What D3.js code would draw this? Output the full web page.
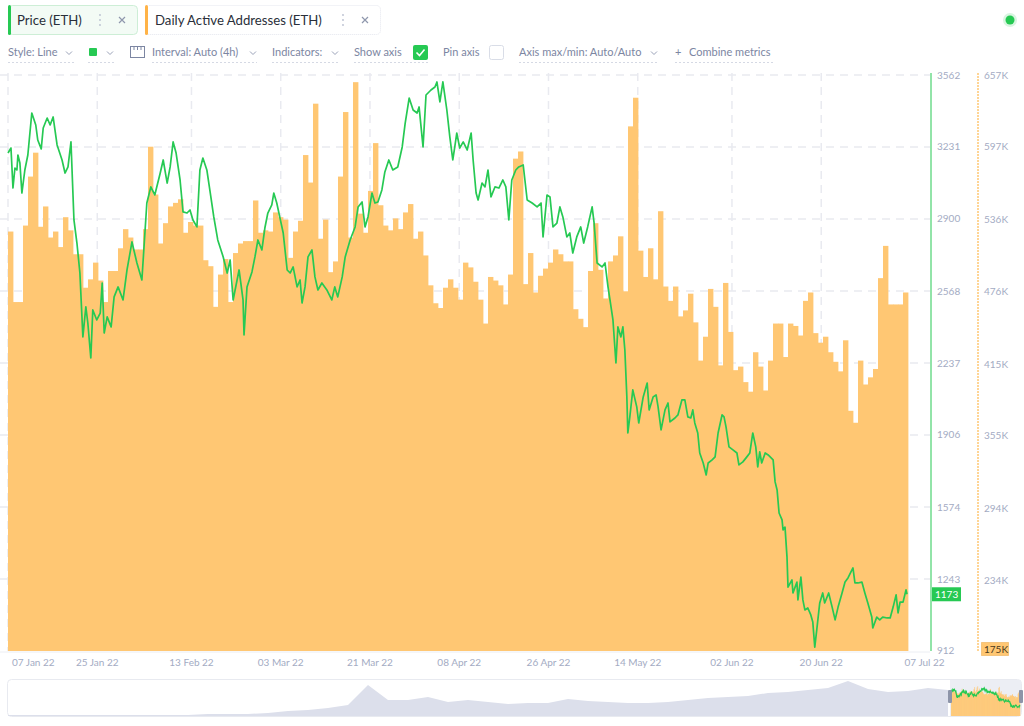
<!DOCTYPE html>
<html><head><meta charset="utf-8">
<script src="https://cdn.jsdelivr.net/npm/d3@7"></script>
<style>
body{margin:0;background:#fff;}
svg{display:block;font-family:Lato,"Open Sans",sans-serif;}
</style></head>
<body><svg id="c" width="1024" height="726"></svg>
<script>
// ---------------- data ----------------
const barStart = "2022-01-07";
const activeAddressesK = [
526,467,467,531,572,592,530,547,521,526,513,538,527,507,507,479,486,500,485,467,
493,493,512,528,521,511,511,528,597,557,516,533,547,550,553,525,534,531,531,502,
497,463,490,503,467,508,516,518,518,552,525,527,526,542,538,536,504,526,535,590,
567,633,520,536,492,501,572,626,521,651,541,525,560,600,548,531,527,537,528,542,
549,520,526,506,481,466,462,479,486,479,469,500,496,484,469,449,488,485,481,465,
490,587,593,482,508,475,489,495,500,511,507,501,501,461,453,446,493,533,494,470,
501,506,522,476,614,638,510,488,512,486,543,480,468,480,455,460,474,450,418,438,
478,463,414,483,442,410,413,400,392,425,413,393,418,449,449,421,449,447,439,468,
475,441,433,438,425,417,409,435,376,366,418,398,404,411,487,514,465,465,465,475
];
const priceDayOffsets = [
0,0.6,1.0,1.4,1.8,2.0,2.4,2.8,3.4,4.0,4.8,5.6,6.0,6.7,7.1,7.9,8.5,9.1,9.9,10.9,
11.5,12.1,12.7,13.3,13.9,14.5,15.1,15.7,16.1,16.7,17.1,17.9,18.6,19.0,19.4,20.0,20.8,21.4,22.2,23.2,
24.0,25.0,26.0,27.0,28.0,28.8,29.6,30.7,31.3,32.1,32.7,33.3,33.9,34.7,35.3,36.1,36.7,37.3,38.1,38.7,
39.3,40.1,40.7,41.5,42.3,43.4,44.2,44.8,45.4,46.2,46.6,47.4,47.6,48.2,49.2,49.8,50.4,51.2,51.8,52.4,
53.2,53.6,54.2,54.8,55.5,56.3,56.9,57.5,58.3,58.9,59.3,59.9,60.5,61.3,61.9,62.5,63.3,64.3,65.3,65.9,
66.5,67.4,68.0,69.0,70.0,70.6,71.4,72.0,72.6,73.4,74.0,74.6,75.4,76.0,76.8,77.6,78.6,79.5,80.1,80.9,
81.7,82.5,82.9,83.7,84.3,85.3,86.1,86.5,87.1,87.7,88.5,89.1,89.7,90.1,90.5,91.1,91.8,92.6,93.4,93.8,
94.4,94.8,95.6,96.2,96.8,97.4,98.2,99.0,99.8,100.4,101.0,101.6,102.4,103.0,103.9,104.7,105.7,106.7,107.5,107.9,
108.7,109.3,109.9,110.7,111.3,111.9,112.7,113.3,113.9,114.7,115.5,116.1,116.9,117.8,118.2,118.8,119.8,120.4,121.0,121.4,
122.0,122.6,123.0,123.6,124.0,124.4,124.8,125.0,125.4,126.0,126.8,127.2,128.1,128.9,129.3,130.1,130.7,131.1,131.7,132.5,
133.1,133.5,134.5,135.1,135.9,136.5,137.1,137.7,138.1,138.5,139.1,139.5,140.2,140.8,141.2,142.0,142.6,143.2,144.0,144.4,
144.8,145.4,146.2,147.0,147.4,148.2,149.0,149.6,150.2,150.8,151.2,151.6,152.0,152.7,153.3,154.3,154.7,155.1,155.5,156.1,
156.3,156.7,157.1,157.3,158.1,158.3,159.1,159.3,159.9,160.3,160.7,161.3,161.9,162.3,162.7,163.1,163.7,164.3,164.7,165.5,
166.2,166.8,167.4,168.2,168.8,169.4,170.4,170.8,171.4,172.2,172.8,173.4,174.2,174.4,175.2,175.8,176.4,177.3,177.9,178.5,
179.1,179.5,179.9,180.5,181.1,181.3
];
const priceValues = [
3203,3226,3042,3134,3125,3194,3157,3019,3125,3194,3387,3332,3263,3222,3318,3364,3332,3369,3240,3171,
3111,3139,3254,2895,2789,2651,2357,2495,2421,2260,2481,2435,2467,2605,2375,2449,2403,2541,2587,2527,
2665,2794,2697,2619,2973,3047,3010,3111,3171,3065,3139,3254,3203,3079,2932,2927,2941,2895,2863,3125,
3180,3125,3033,2909,2803,2725,2651,2711,2527,2619,2665,2527,2366,2587,2656,2725,2803,2757,2858,2927,
2964,3019,2973,2909,2835,2665,2651,2679,2587,2619,2513,2587,2725,2757,2633,2573,2605,2573,2527,2587,
2541,2633,2725,2803,2863,2955,2978,2863,2909,3019,2973,2978,3033,3116,3171,3125,3139,3231,3341,3456,
3401,3387,3415,3231,3470,3493,3507,3530,3438,3530,3401,3277,3171,3231,3295,3226,3254,3217,3295,3171,
3019,2987,3065,3047,3125,3001,3047,3042,3079,3047,2895,3079,3125,3139,3148,2987,2973,2955,2973,2817,
3010,3001,2863,2881,2955,2909,2817,2835,2743,2817,2863,2789,2863,2955,2881,2697,2679,2697,2587,2527,
2435,2237,2403,2357,2403,2297,2081,1915,1989,2113,2035,1961,2081,2145,2021,2081,2090,2035,1929,2021,
2053,1966,1984,1998,2067,2067,1989,1984,2021,1961,1915,1823,1777,1722,1777,1791,1805,1915,1998,1989,
1943,1851,1837,1823,1768,1782,1805,1823,1915,1851,1759,1828,1777,1823,1814,1791,1690,1653,1547,1515,
1469,1482,1344,1206,1239,1179,1229,1147,1252,1147,1101,1110,1078,1045,930,1009,1133,1179,1133,1179,
1114,1055,1114,1179,1229,1248,1294,1225,1225,1229,1179,1133,1068,1018,1068,1055,1068,1064,1064,1114,
1170,1087,1137,1137,1193,1173
];
const priceTicks = [3562,3231,2900,2568,2237,1906,1574,1243,912];
const addressTickValues = [657,597,536,476,415,355,294,234];
const addressTickLabels = ["657K","597K","536K","476K","415K","355K","294K","234K"];
const addressMinLabel = "175K";
const lastPriceLabel = "1173";
const dateTicks = ["2022-01-07","2022-01-25","2022-02-13","2022-03-03","2022-03-21","2022-04-08","2022-04-26","2022-05-14","2022-06-02","2022-06-20","2022-07-07"];
const navigatorHistory = [20,20,20,20,20,20,20,20,20,20,40,40,40,60,100,120,160,220,620,320,
320,380,280,320,280,240,260,260,340,300,280,260,260,280,320,360,380,400,460,480,
520,560,700,540,480,500,560,520];
const tabs = ["Price (ETH)","Daily Active Addresses (ETH)"];
const toolbar = ["Style: Line","Interval: Auto (4h)","Indicators:","Show axis","Pin axis","Axis max/min: Auto/Auto","Combine metrics"];

// ---------------- setup ----------------
const GREEN="#26c953", ORANGE="#ffc773", TXT="#a3abc3", GRID="#e9eaf0";
const svg=d3.select("#c");
const DAY=864e5;
const start=d3.utcParse("%Y-%m-%d")(barStart);
const x=d3.scaleUtc().domain([start,new Date(+start+181.5*DAY)]).range([8,908]);
const barKeys=activeAddressesK.map((_,i)=>i);
const xb=d3.scaleBand().domain(barKeys).range([8,908]).padding(0);
const yP=d3.scaleLinear().domain([912,3562]).range([651,75]);
const yA=d3.scaleLinear().domain([175,657]).range([651,75]);
const priceData=priceDayOffsets.map((d,i)=>({t:new Date(+start+d*DAY),v:priceValues[i]}));

// ---------------- tabs ----------------
const tabG=svg.append("g");
tabG.append("rect").attr("x",8.5).attr("y",5.5).attr("width",129).attr("height",29).attr("rx",4)
  .attr("fill","#f3fbf5").attr("stroke","#cdeed6");
tabG.append("rect").attr("x",8).attr("y",5).attr("width",3).attr("height",30).attr("rx",1.5).attr("fill",GREEN);
tabG.append("text").attr("x",17).attr("y",25).attr("font-size",13.2).attr("fill","#2a2f3a").text(tabs[0]);
tabG.append("rect").attr("x",145.5).attr("y",5.5).attr("width",235).attr("height",29).attr("rx",4)
  .attr("fill","#fff").attr("stroke","#e4e6ee").attr("stroke-dasharray","1,1");
tabG.append("rect").attr("x",145).attr("y",5).attr("width",3).attr("height",30).attr("rx",1.5).attr("fill","#ffb347");
tabG.append("text").attr("x",155).attr("y",25).attr("font-size",13.2).attr("fill","#2a2f3a").text(tabs[1]);
[[100,122],[343,365]].forEach(([dx,cx])=>{
  [15,20,25].forEach(yy=>tabG.append("circle").attr("cx",dx).attr("cy",yy).attr("r",0.9).attr("fill","#b9bfd0"));
  tabG.append("path").attr("d",`M${cx-3},${17} L${cx+3},${23} M${cx+3},${17} L${cx-3},${23}`)
    .attr("stroke","#8f97ad").attr("stroke-width",1.2);
});
svg.append("circle").attr("cx",1010).attr("cy",20).attr("r",7).attr("fill","#d9f5e1");
svg.append("circle").attr("cx",1010).attr("cy",20).attr("r",4.5).attr("fill",GREEN);

// ---------------- toolbar ----------------
const tb=svg.append("g").attr("font-size",11).attr("fill","#7c86a2");
function chev(cx,cy){tb.append("path").attr("d",`M${cx-3},${cy-1.5} L${cx},${cy+1.5} L${cx+3},${cy-1.5}`)
  .attr("fill","none").attr("stroke","#9aa2b8").attr("stroke-width",1);}
function uline(x1,x2){tb.append("line").attr("x1",x1).attr("x2",x2).attr("y1",62.5).attr("y2",62.5)
  .attr("stroke","#d5d9e4").attr("stroke-dasharray","2,2");}
tb.append("text").attr("x",8).attr("y",56).text(toolbar[0]); chev(69,53); uline(8,75);
tb.append("rect").attr("x",89).attr("y",48).attr("width",8).attr("height",8).attr("rx",1).attr("fill",GREEN);
chev(110,53); uline(88,114);
tb.append("rect").attr("x",130.5).attr("y",46.5).attr("width",14).attr("height",11).attr("fill","none").attr("stroke","#7c86a2");
[134,137.5,141].forEach(xx=>tb.append("line").attr("x1",xx).attr("x2",xx).attr("y1",47).attr("y2",50).attr("stroke","#7c86a2"));
tb.append("text").attr("x",152).attr("y",56).text(toolbar[1]); chev(253,53); uline(152,257);
tb.append("text").attr("x",272).attr("y",56).text(toolbar[2]); chev(335,53); uline(272,340);
tb.append("text").attr("x",354).attr("y",56).text(toolbar[3]);
tb.append("rect").attr("x",413).attr("y",45).attr("width",15).attr("height",15).attr("rx",2).attr("fill",GREEN);
tb.append("path").attr("d","M416.5,52.5 L419.5,55.5 L424.5,49.5").attr("fill","none").attr("stroke","#fff").attr("stroke-width",1.6);
uline(354,428);
tb.append("text").attr("x",443).attr("y",56).text(toolbar[4]);
tb.append("rect").attr("x",489.5).attr("y",45.5).attr("width",14).attr("height",14).attr("rx",2).attr("fill","#fff").attr("stroke","#d9dde7");
tb.append("text").attr("x",519).attr("y",56).text(toolbar[5]); chev(654,53); uline(519,659);
tb.append("text").attr("x",675).attr("y",56).text("+");
tb.append("text").attr("x",689).attr("y",56).text(toolbar[6]); uline(675,774);

// ---------------- grid ----------------
const grid=svg.append("g").attr("stroke",GRID).attr("stroke-dasharray","8,6").attr("stroke-width",1.5);
priceTicks.slice(0,-1).forEach(v=>grid.append("line").attr("x1",0).attr("x2",930).attr("y1",yP(v)).attr("y2",yP(v)));
dateTicks.slice(1,-1).forEach(d=>{const xx=x(d3.utcParse("%Y-%m-%d")(d));
  grid.append("line").attr("x1",xx).attr("x2",xx).attr("y1",73).attr("y2",651);});
grid.append("line").attr("x1",8).attr("x2",8).attr("y1",73).attr("y2",651);

// ---------------- bars ----------------
svg.append("g").selectAll("rect").data(activeAddressesK).join("rect")
  .attr("x",(d,i)=>xb(i)).attr("width",xb.bandwidth()+0.4)
  .attr("y",d=>yA(d)).attr("height",d=>651-yA(d)).attr("fill",ORANGE);
svg.append("line").attr("x1",0).attr("x2",930).attr("y1",652).attr("y2",652).attr("stroke","#eceef3");

// ---------------- price line ----------------
svg.append("path").datum(priceData)
  .attr("d",d3.line().x(d=>x(d.t)).y(d=>yP(d.v)))
  .attr("fill","none").attr("stroke",GREEN).attr("stroke-width",1.7).attr("stroke-linejoin","round");

// ---------------- axes ----------------
svg.append("line").attr("x1",931).attr("x2",931).attr("y1",73).attr("y2",651).attr("stroke",GREEN).attr("stroke-width",1);
const ax=svg.append("g").attr("font-size",10).attr("fill",TXT);
priceTicks.forEach((v,i)=>ax.append("text").attr("x",937)
  .attr("y",yP(v)+(i===priceTicks.length-1?2.5:3.5)).text(v));
svg.append("rect").attr("x",932).attr("y",yP(1173)-7).attr("width",29).attr("height",14).attr("fill",GREEN);
svg.append("text").attr("x",935).attr("y",yP(1173)+4).attr("font-size",10).attr("fill","#fff").text(lastPriceLabel);

svg.append("line").attr("x1",978).attr("x2",978).attr("y1",73).attr("y2",651).attr("stroke",ORANGE).attr("stroke-width",1.5).attr("stroke-dasharray","2,1");
addressTickValues.forEach((v,i)=>ax.append("text").attr("x",984).attr("y",yA(v)+3.5).text(addressTickLabels[i]));
svg.append("rect").attr("x",981.5).attr("y",642.5).attr("width",27).attr("height",13).attr("fill",ORANGE).attr("stroke","#e8a545").attr("stroke-dasharray","1,1");
svg.append("text").attr("x",984).attr("y",652.5).attr("font-size",10).attr("fill","#4a3a20").text(addressMinLabel);

const fmt=d3.utcFormat("%d %b %y");
dateTicks.forEach((d,i)=>{const t=d3.utcParse("%Y-%m-%d")(d);let xx=x(t),anchor="middle";
  if(i===0){xx+=4;anchor="start";} if(i===dateTicks.length-1){anchor="start";xx-=1;}
  ax.append("text").attr("x",xx).attr("y",666).attr("text-anchor",anchor).text(fmt(t));});

// ---------------- navigator ----------------
const nav=svg.append("g");
nav.append("rect").attr("x",7.5).attr("y",679.5).attr("width",1014).attr("height",37).attr("rx",4).attr("fill","#fff").attr("stroke","#e8eaf0");
const nx=d3.scaleLinear().domain([0,navigatorHistory.length-1]).range([8,948]);
const ny=d3.scaleLinear().domain([0,740]).range([716,679]);
nav.append("path").datum(navigatorHistory).attr("d",d3.area().x((d,i)=>nx(i)).y0(716).y1(d=>ny(d)))
  .attr("fill","#dcdfeb");
nav.append("rect").attr("x",950).attr("y",680).attr("width",71).attr("height",36).attr("fill","#eceef4");
const mxb=d3.scaleBand().domain(barKeys).range([951,1020]);
const mya=d3.scaleLinear().domain([0,657]).range([716,686]);
nav.append("g").selectAll("rect").data(activeAddressesK).join("rect")
  .attr("x",(d,i)=>mxb(i)).attr("width",mxb.bandwidth()+0.3).attr("y",d=>mya(d)).attr("height",d=>716-mya(d)).attr("fill",ORANGE);
const mx=d3.scaleUtc().domain(x.domain()).range([951,1020]);
const myp=d3.scaleLinear().domain([912,3562]).range([708,688]);
nav.append("path").datum(priceData).attr("d",d3.line().x(d=>mx(d.t)).y(d=>myp(d.v)))
  .attr("fill","none").attr("stroke",GREEN).attr("stroke-width",1.2);
nav.append("rect").attr("x",948).attr("y",690).attr("width",4).attr("height",13).attr("rx",1).attr("fill","#8d94a8");
nav.append("rect").attr("x",1019).attr("y",690).attr("width",4).attr("height",13).attr("rx",1).attr("fill","#8d94a8");
</script></body></html>
